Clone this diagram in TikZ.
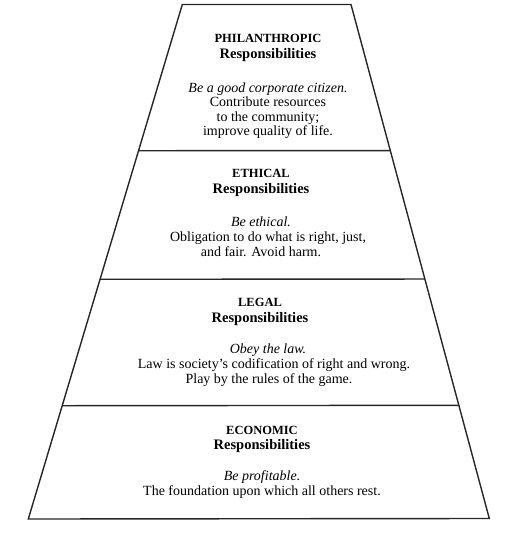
\documentclass[tikz,border=0pt]{standalone}
\usepackage{fontspec}
\setmainfont{Liberation Serif}
\usetikzlibrary{calc}
\begin{document}
\begin{tikzpicture}[x=1pt,y=-1pt,
  edge/.style={line width=1.4pt, line join=miter, draw=black!85},
  capline/.style={font=\fontsize{12.5}{15}\selectfont\bfseries, anchor=base, inner sep=0pt},
  respline/.style={font=\fontsize{14.5}{15}\selectfont\bfseries, anchor=base, inner sep=0pt},
  bodyline/.style={font=\fontsize{14}{15}\selectfont, anchor=base, inner sep=0pt},
  italline/.style={font=\fontsize{14}{15}\selectfont\itshape, anchor=base, inner sep=0pt}]
\useasboundingbox (0,0) rectangle (523,541);
% trapezoid corners
\coordinate (tl) at (182.3,4.5);
\coordinate (tr) at (351,4.5);
\coordinate (bl) at (28.3,519);
\coordinate (br) at (489.3,518.5);
\draw[edge] (tl) -- (tr) -- (br) -- (bl) -- cycle;
% band dividers
\coordinate (la) at ($(tl)!0.2842!(bl)$);
\coordinate (ra) at ($(tr)!0.2842!(br)$);
\coordinate (lb) at ($(tl)!0.5341!(bl)$);
\coordinate (rb) at ($(tr)!0.5341!(br)$);
\coordinate (lc) at ($(tl)!0.7798!(bl)$);
\coordinate (rc) at ($(tr)!0.7798!(br)$);
\draw[edge] (la) -- (ra);
\draw[edge] (lb) -- (rb);
\draw[edge] (lc) -- (rc);
% Philanthropic
\node[capline]  (p1) at (268,42)    {PHILANTHROPIC};
\node[respline] (p2) at (268,58)    {Responsibilities};
\node[italline] (p3) at (268,92)    {Be a good corporate citizen.};
\node[bodyline] (p4) at (268,106.5) {Contribute resources};
\node[bodyline] (p5) at (268,121)   {to the community;};
\node[bodyline] (p6) at (268,135.5) {improve quality of life.};
% Ethical
\node[capline]  (e1) at (261,177)   {ETHICAL};
\node[respline] (e2) at (261,193)   {Responsibilities};
\node[italline] (e3) at (261,226)   {Be ethical.};
\node[bodyline] (e4) at (268,241)   {Obligation to do what is right, just,};
\node[bodyline] (e5) at (261,256)   {and fair. Avoid harm.};
% Legal
\node[capline]  (g1) at (260,306)   {LEGAL};
\node[respline] (g2) at (260,322)   {Responsibilities};
\node[italline] (g3) at (268,353)   {Obey the law.};
\node[bodyline] (g4) at (274,368)   {Law is society's codification of right and wrong.};
\node[bodyline] (g5) at (269,383)   {Play by the rules of the game.};
% Economic
\node[capline]  (c1) at (262,434)   {ECONOMIC};
\node[respline] (c2) at (262,449)   {Responsibilities};
\node[italline] (c3) at (262,480)   {Be profitable.};
\node[bodyline] (c4) at (262,495)   {The foundation upon which all others rest.};
\end{tikzpicture}
\end{document}
